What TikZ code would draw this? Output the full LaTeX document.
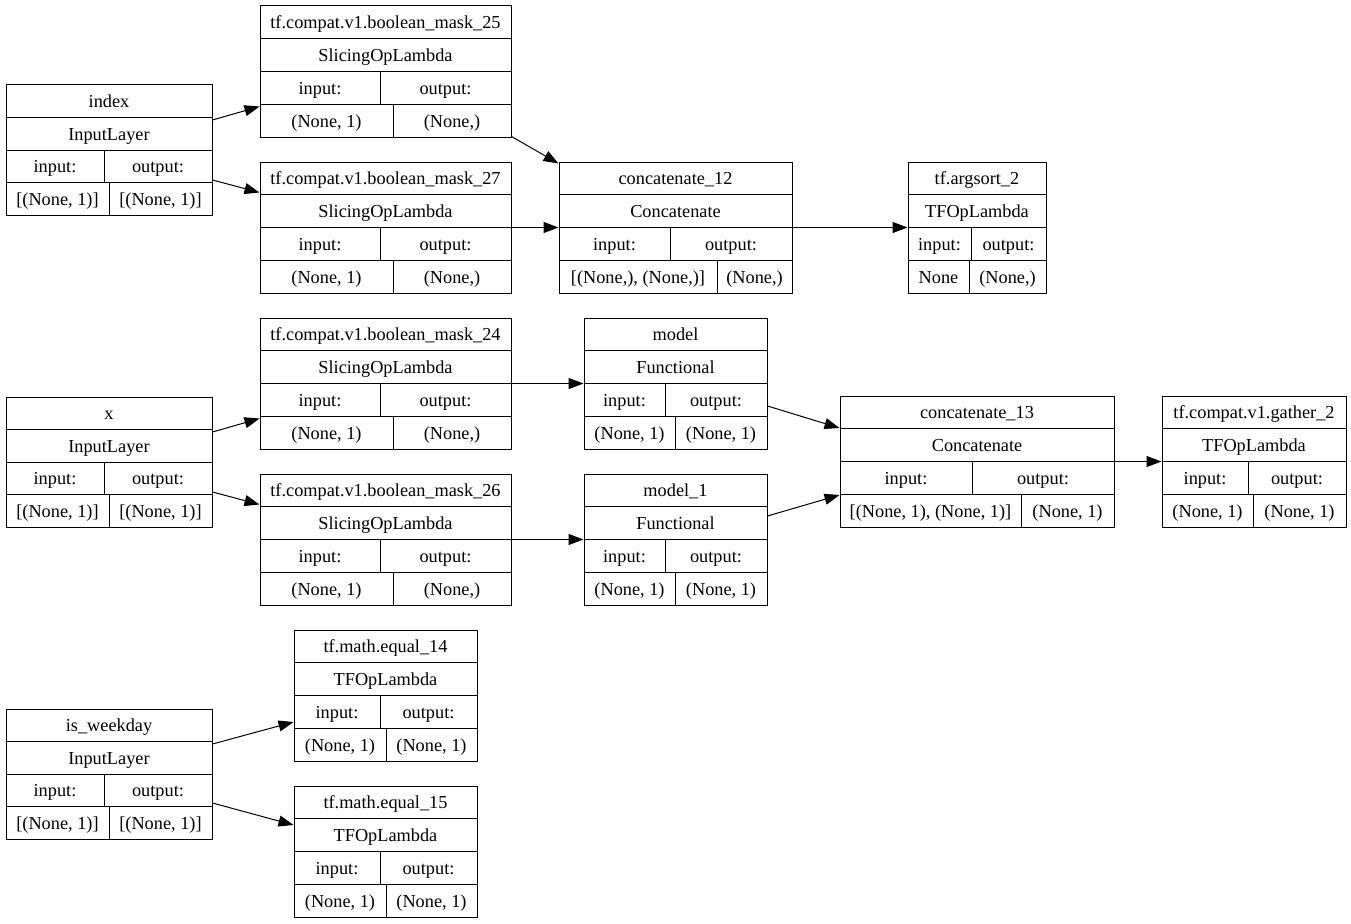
\documentclass[tikz,border=0pt]{standalone}
\usepackage{fontspec}
\setmainfont{Liberation Serif}
\usetikzlibrary{fit,arrows.meta}
\tikzset{
 kframe/.style={draw, line width=1pt, inner sep=0pt},
 kline/.style={line width=1pt},
 ktext/.style={font=\fontsize{18.3}{22}\selectfont, inner sep=0pt, anchor=base},
 kedge/.style={line width=1pt, -{Triangle[length=15pt,width=11pt]}},
}
\newcommand\kbox[9]{%
 \node[kframe, fit={(#2,#3)(#4,#5)}] (#1) {};
 \draw[kline] (#2,{#3+(#5-#3)/4}) -- (#4,{#3+(#5-#3)/4});
 \draw[kline] (#2,{#3+(#5-#3)/2}) -- (#4,{#3+(#5-#3)/2});
 \draw[kline] (#2,{#3+3*(#5-#3)/4}) -- (#4,{#3+3*(#5-#3)/4});
 \draw[kline] (#6,{#3+(#5-#3)/2}) -- (#6,{#3+3*(#5-#3)/4});
 \draw[kline] (#7,{#3+3*(#5-#3)/4}) -- (#7,#5);
 \node[ktext] at ({(#2+#4)/2},{#3+(#5-#3)/8+6.5}) {#8};
 \node[ktext] at ({(#2+#4)/2},{#3+3*(#5-#3)/8+6.5}) {#9};
 \node[ktext] at ({(#2+#6)/2},{#3+5*(#5-#3)/8+6.5}) {input:};
 \node[ktext] at ({(#6+#4)/2},{#3+5*(#5-#3)/8+6.5}) {output:};
 \node[ktext] at ({(#2+#7)/2},{#3+7*(#5-#3)/8+6.5}) {\kin};
 \node[ktext] at ({(#7+#4)/2},{#3+7*(#5-#3)/8+6.5}) {\kout};
}
\begin{document}
\begin{tikzpicture}[x=1pt,y=-1pt]
\fill[white] (0,0) rectangle (1351,923);
\useasboundingbox (0,0) rectangle (1351,923);
\def\kin{[(None, 1)]}\def\kout{[(None, 1)]}
\kbox{index}{6}{85}{212}{215}{104}{109}{index}{InputLayer}
\kbox{xin}{6}{397}{212}{527}{104}{109}{x}{InputLayer}
\kbox{iw}{6}{709}{212}{839}{104}{109}{is\_weekday}{InputLayer}
\def\kin{(None, 1)}\def\kout{(None,)}
\kbox{m25}{260}{6}{511}{137}{380}{393}{tf.compat.v1.boolean\_mask\_25}{SlicingOpLambda}
\kbox{m27}{260}{162}{511}{293}{380}{393}{tf.compat.v1.boolean\_mask\_27}{SlicingOpLambda}
\kbox{m24}{260}{318}{511}{449}{380}{393}{tf.compat.v1.boolean\_mask\_24}{SlicingOpLambda}
\kbox{m26}{260}{474}{511}{605}{380}{393}{tf.compat.v1.boolean\_mask\_26}{SlicingOpLambda}
\def\kin{[(None,), (None,)]}\def\kout{(None,)}
\kbox{c12}{559}{162}{792}{293}{670}{717}{concatenate\_12}{Concatenate}
\def\kin{None}\def\kout{(None,)}
\kbox{a2}{908}{162}{1046}{293}{971}{969}{tf.argsort\_2}{TFOpLambda}
\def\kin{(None, 1)}\def\kout{(None, 1)}
\kbox{model}{584}{318}{767}{449}{665}{675}{model}{Functional}
\kbox{model1}{584}{474}{767}{605}{665}{675}{model\_1}{Functional}
\def\kin{[(None, 1), (None, 1)]}
\kbox{c13}{840}{396}{1114}{527}{972}{1021}{concatenate\_13}{Concatenate}
\def\kin{(None, 1)}
\kbox{g2}{1162}{396}{1346}{527}{1248}{1253}{tf.compat.v1.gather\_2}{TFOpLambda}
\kbox{e14}{294}{630}{477}{761}{380}{386}{tf.math.equal\_14}{TFOpLambda}
\kbox{e15}{294}{786}{477}{917}{380}{386}{tf.math.equal\_15}{TFOpLambda}
\draw[kedge] ([yshift=30pt]index.east) -- ([yshift=-35pt]m25.west);
\draw[kedge] ([yshift=-30pt]index.east) -- ([yshift=35pt]m27.west);
\draw[kedge] ([yshift=1pt]m25.south east) -- ([yshift=-2pt]c12.north west);
\draw[kedge] (m27.east) -- (c12.west);
\draw[kedge] (c12.east) -- (a2.west);
\draw[kedge] ([yshift=30pt]xin.east) -- ([yshift=-35pt]m24.west);
\draw[kedge] ([yshift=-30pt]xin.east) -- ([yshift=35pt]m26.west);
\draw[kedge] (m24.east) -- (model.west);
\draw[kedge] (m26.east) -- (model1.west);
\draw[kedge] ([yshift=-22.5pt]model.east) -- ([yshift=33.5pt]c13.west);
\draw[kedge] ([yshift=23.5pt]model1.east) -- ([yshift=-33.5pt]c13.west);
\draw[kedge] (c13.east) -- (g2.west);
\draw[kedge] ([yshift=30pt]iw.east) -- ([yshift=-26.5pt]e14.west);
\draw[kedge] ([yshift=-29pt]iw.east) -- ([yshift=26.5pt]e15.west);
\end{tikzpicture}
\end{document}
